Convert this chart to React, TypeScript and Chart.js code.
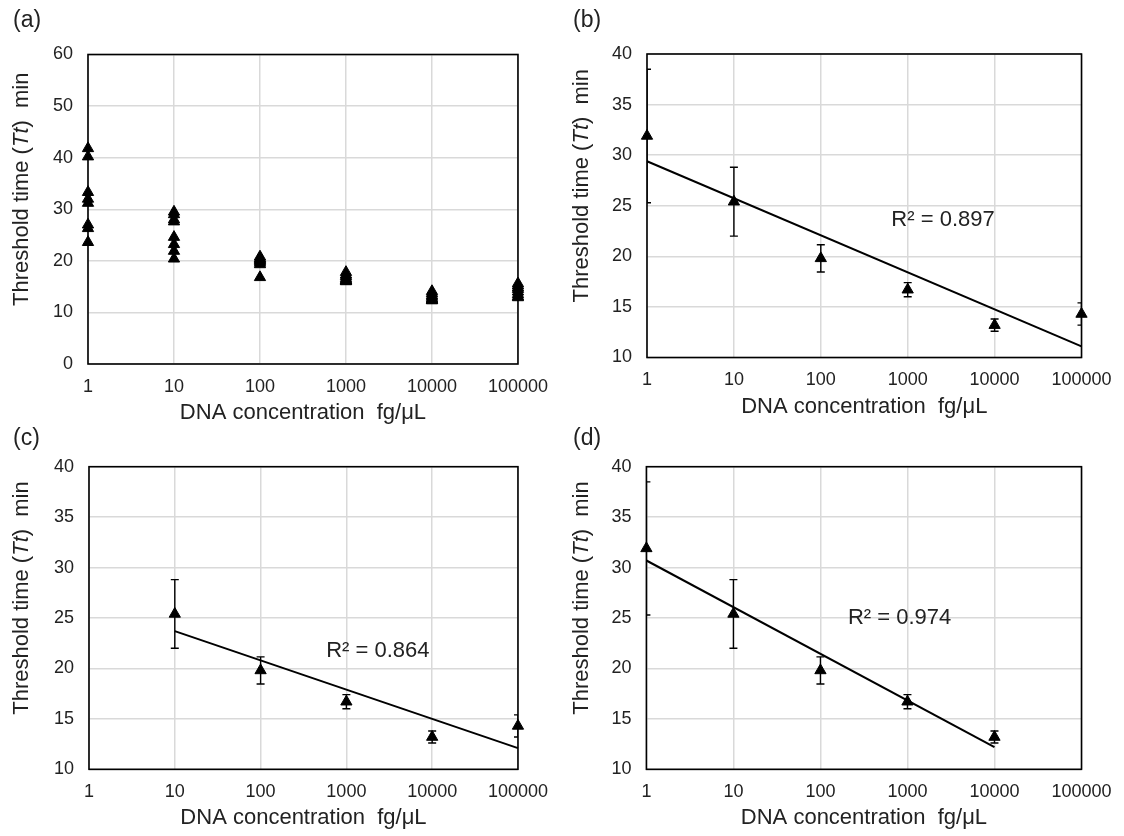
import React, { useEffect, useRef } from "react";
import { Chart, registerables } from "chart.js";

Chart.register(...registerables);

const FONT = "'Liberation Sans', Arial, sans-serif";
const TEXT_COLOR = "#222222";
const GRID_COLOR = "#d9d9d9";

// ---------- data ----------
const concentrations = [1, 10, 100, 1000, 10000, 100000];
const xTickValues = [1, 10, 100, 1000, 10000, 100000];

// panel (a): individual replicate threshold times (min)
const rawTt1 = [41.8, 40.2, 33.3, 32.0, 31.2, 27.0, 26.3, 23.6];
const rawTt10 = [29.5, 29.0, 28.0, 27.6, 24.6, 23.2, 21.9, 20.4];
const rawTt100 = [20.8, 20.5, 20.3, 20.1, 19.9, 19.6, 19.3, 16.8];
const rawTt1000 = [17.8, 17.3, 17.0, 16.6, 16.3, 16.1, 16.0, 16.2];
const rawTt10000 = [14.1, 13.7, 13.3, 13.0, 12.7, 12.5, 12.3, 12.4];
const rawTt100000 = [15.6, 15.2, 14.8, 14.5, 14.0, 13.5, 13.1, 12.9];

// panels (b)-(d): mean and SD
const meanTt = [31.9, 25.4, 19.8, 16.7, 13.2, 14.3];
const sdTt = [6.6, 3.4, 1.35, 0.7, 0.6, 1.1];

// trend lines
const fitXB = [1, 100000];
const fitYB = [29.4, 11.1];
const fitXC = [10, 100000];
const fitYC = [23.7, 12.1];
const fitXD = [1, 10000];
const fitYD = [30.7, 12.2];

// R² labels
const r2B = "R² = 0.897";
const r2C = "R² = 0.864";
const r2D = "R² = 0.974";
const r2PosB = [2550, 23.55];
const r2PosC = [2330, 21.74];
const r2PosD = [813, 24.97];

const X_TITLE = "DNA concentration  fg/μL";

// ---------- plugins ----------
const framePlugin = {
  id: "frame",
  beforeDatasetsDraw(chart: any) {
    const { ctx, chartArea } = chart;
    ctx.save();
    ctx.strokeStyle = "#000";
    ctx.lineWidth = 1.6;
    ctx.strokeRect(chartArea.left, chartArea.top, chartArea.right - chartArea.left, chartArea.bottom - chartArea.top);
    ctx.restore();
  },
};

const errorBarPlugin = {
  id: "errorBars",
  beforeDatasetsDraw(chart: any) {
    const { ctx, chartArea } = chart;
    const y = chart.scales.y;
    ctx.save();
    ctx.beginPath();
    ctx.rect(chartArea.left, chartArea.top, chartArea.right - chartArea.left, chartArea.bottom - chartArea.top);
    ctx.clip();
    ctx.strokeStyle = "#000";
    ctx.lineWidth = 1.4;
    chart.data.datasets.forEach((ds: any, i: number) => {
      if (!ds.errors) return;
      const meta = chart.getDatasetMeta(i);
      meta.data.forEach((pt: any, j: number) => {
        const v = ds.data[j].y;
        const e = ds.errors[j];
        const yt = y.getPixelForValue(v + e);
        const yb = y.getPixelForValue(v - e);
        const x = pt.x;
        ctx.beginPath();
        ctx.moveTo(x, yt);
        ctx.lineTo(x, yb);
        ctx.moveTo(x - 4, yt);
        ctx.lineTo(x + 4, yt);
        ctx.moveTo(x - 4, yb);
        ctx.lineTo(x + 4, yb);
        ctx.stroke();
      });
    });
    ctx.restore();
  },
};

const textPlugin = {
  id: "panelText",
  afterDraw(chart: any, _args: any, opts: any) {
    const { ctx, chartArea } = chart;
    ctx.save();
    ctx.fillStyle = TEXT_COLOR;
    ctx.textBaseline = "middle";
    // panel label
    ctx.font = `23px ${FONT}`;
    ctx.textAlign = "left";
    ctx.fillText(opts.label, 13, 21);
    // x title
    ctx.font = `22px ${FONT}`;
    ctx.textAlign = "center";
    ctx.fillText(X_TITLE, (chartArea.left + chartArea.right) / 2, chartArea.bottom + 49);
    // y title (mixed italic)
    const parts = [
      { t: "Threshold time (", f: `22px ${FONT}` },
      { t: "Tt", f: `italic 22px ${FONT}` },
      { t: ")  min", f: `22px ${FONT}` },
    ];
    let total = 0;
    const widths = parts.map((p) => {
      ctx.font = p.f;
      const w = ctx.measureText(p.t).width;
      total += w;
      return w;
    });
    ctx.translate(21.5, (chartArea.top + chartArea.bottom) / 2 - 20);
    ctx.rotate(-Math.PI / 2);
    ctx.textAlign = "left";
    let cx = -total / 2;
    parts.forEach((p, i) => {
      ctx.font = p.f;
      ctx.fillText(p.t, cx, 0);
      cx += widths[i];
    });
    ctx.setTransform(1, 0, 0, 1, 0, 0);
    // R² label
    if (opts.r2) {
      ctx.font = `22px ${FONT}`;
      ctx.textAlign = "center";
      const px = chart.scales.x.getPixelForValue(opts.r2.x);
      const py = chart.scales.y.getPixelForValue(opts.r2.y);
      ctx.fillText(opts.r2.text, px, py);
    }
    ctx.restore();
  },
};

// ---------- config builder ----------
type PanelSpec = {
  label: string;
  width: number;
  height: number;
  padTop: number;
  padRight: number;
  yWidth: number;
  xHeight: number;
  yMin: number;
  yMax: number;
  yStep: number;
  datasets: any[];
  r2?: { text: string; x: number; y: number };
};

const markerStyle = {
  pointStyle: "triangle",
  pointRadius: 6.5,
  pointHoverRadius: 6.5,
  backgroundColor: "#000",
  borderColor: "#000",
  borderWidth: 1,
  showLine: false,
  clip: false,
};

function trendDataset(xs: number[], ys: number[]) {
  return {
    type: "line",
    data: xs.map((x, i) => ({ x, y: ys[i] })),
    borderColor: "#000",
    borderWidth: 2,
    pointRadius: 0,
    showLine: true,
    fill: false,
    clip: false,
  };
}

function meanDataset(idx: number[]) {
  return {
    ...markerStyle,
    data: idx.map((i) => ({ x: concentrations[i], y: meanTt[i] })),
    errors: idx.map((i) => sdTt[i]),
  };
}

function buildConfig(p: PanelSpec) {
  return {
    type: "scatter",
    data: { datasets: p.datasets },
    options: {
      animation: false,
      responsive: false,
      maintainAspectRatio: false,
      layout: { padding: { top: p.padTop, right: p.padRight, bottom: 0, left: 0 } },
      plugins: {
        legend: { display: false },
        tooltip: { enabled: false },
        panelText: { label: p.label, r2: p.r2 },
      },
      scales: {
        x: {
          type: "logarithmic",
          min: 1,
          max: 100000,
          afterBuildTicks: (s: any) => {
            s.ticks = xTickValues.map((v) => ({ value: v }));
          },
          afterFit: (s: any) => {
            s.height = p.xHeight;
          },
          grid: { color: GRID_COLOR, lineWidth: 1.5, drawTicks: false },
          border: { display: false },
          ticks: {
            color: TEXT_COLOR,
            font: { family: FONT, size: 18 },
            padding: 12,
            maxRotation: 0,
            autoSkip: false,
            callback: (v: any) => String(v),
          },
        },
        y: {
          type: "linear",
          min: p.yMin,
          max: p.yMax,
          afterFit: (s: any) => {
            s.width = p.yWidth;
          },
          grid: { color: GRID_COLOR, lineWidth: 1.5, drawTicks: false },
          border: { display: false },
          ticks: {
            stepSize: p.yStep,
            color: TEXT_COLOR,
            font: { family: FONT, size: 18 },
            padding: 15,
          },
        },
      },
    },
    plugins: [framePlugin, errorBarPlugin, textPlugin],
  };
}

const rawSeries = [rawTt1, rawTt10, rawTt100, rawTt1000, rawTt10000, rawTt100000];

const panels: { left: number; top: number; spec: PanelSpec }[] = [
  {
    left: 0,
    top: 0,
    spec: {
      label: "(a)",
      width: 560,
      height: 430,
      padTop: 54.5,
      padRight: 35,
      yWidth: 88,
      xHeight: 66,
      yMin: 0,
      yMax: 60,
      yStep: 10,
      datasets: [
        {
          ...markerStyle,
          data: concentrations.flatMap((c, i) => rawSeries[i].map((y) => ({ x: c, y }))),
        },
      ],
    },
  },
  {
    left: 560,
    top: 0,
    spec: {
      label: "(b)",
      width: 564,
      height: 430,
      padTop: 54,
      padRight: 42.5,
      yWidth: 87,
      xHeight: 72.5,
      yMin: 10,
      yMax: 40,
      yStep: 5,
      datasets: [meanDataset([0, 1, 2, 3, 4, 5]), trendDataset(fitXB, fitYB)],
      r2: { text: r2B, x: r2PosB[0], y: r2PosB[1] },
    },
  },
  {
    left: 0,
    top: 418,
    spec: {
      label: "(c)",
      width: 560,
      height: 418,
      padTop: 48.7,
      padRight: 33,
      yWidth: 89,
      xHeight: 66.7,
      yMin: 10,
      yMax: 40,
      yStep: 5,
      datasets: [meanDataset([1, 2, 3, 4, 5]), trendDataset(fitXC, fitYC)],
      r2: { text: r2C, x: r2PosC[0], y: r2PosC[1] },
    },
  },
  {
    left: 560,
    top: 418,
    spec: {
      label: "(d)",
      width: 564,
      height: 418,
      padTop: 48.7,
      padRight: 42.5,
      yWidth: 86.4,
      xHeight: 66.7,
      yMin: 10,
      yMax: 40,
      yStep: 5,
      datasets: [meanDataset([0, 1, 2, 3, 4]), trendDataset(fitXD, fitYD)],
      r2: { text: r2D, x: r2PosD[0], y: r2PosD[1] },
    },
  },
];

function Panel({ left, top, spec }: { left: number; top: number; spec: PanelSpec }) {
  const ref = useRef<HTMLCanvasElement | null>(null);
  useEffect(() => {
    if (!ref.current) return;
    const chart = new Chart(ref.current, buildConfig(spec) as any);
    return () => chart.destroy();
  }, []);
  return (
    <canvas
      ref={ref}
      width={spec.width}
      height={spec.height}
      style={{ position: "absolute", left, top, width: spec.width, height: spec.height }}
    />
  );
}

export default function App() {
  return (
    <div style={{ position: "absolute", left: 0, top: 0, width: 1124, height: 836, background: "#fff", overflow: "hidden" }}>
      {panels.map((p) => (
        <Panel key={p.spec.label} left={p.left} top={p.top} spec={p.spec} />
      ))}
    </div>
  );
}
